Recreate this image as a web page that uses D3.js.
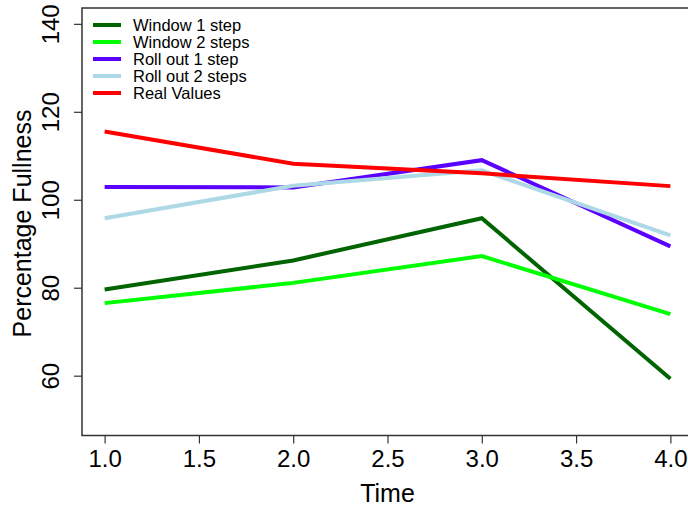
<!DOCTYPE html>
<html>
<head>
<meta charset="utf-8">
<script src="https://cdn.jsdelivr.net/npm/d3@7"></script>
<style>
  body { margin: 0; background: #fff; }
  text { font-family: "Liberation Sans", Arial, sans-serif; }
</style>
</head>
<body>
<script>
// data
var times = [1, 2, 3, 4];
var window1 = [79.6, 86.2, 95.8, 59.3];
var window2 = [76.5, 81.1, 87.2, 74.0];
var rollout1 = [102.9, 102.8, 109.0, 89.4];
var rollout2 = [95.8, 103.2, 106.7, 91.9];
var realValues = [115.5, 108.2, 106.0, 103.1];
var seriesNames = ["Window 1 step", "Window 2 steps", "Roll out 1 step", "Roll out 2 steps", "Real Values"];
var seriesColors = ["#006400", "#00ff00", "#5a00ff", "#add8e6", "#ff0000"];
var xTicks = [1.0, 1.5, 2.0, 2.5, 3.0, 3.5, 4.0];
var yTicks = [60, 80, 100, 120, 140];

var allSeries = [window1, window2, rollout1, rollout2, realValues];

draw();

function draw() {
	var W = 688, H = 509;
	// plot region (right side runs off the canvas like the original)
	var pl = 82, pt = 8, pb = 435.5, pr = 693;

	var svg = d3.select("body").append("svg")
		.attr("width", W)
		.attr("height", H);

	var x = d3.scaleLinear().domain([0.88, 4.12]).range([pl, pr]);
	var y = d3.scaleLinear().domain([46.4, 143.6]).range([pb, pt]);

	// box
	svg.append("rect")
		.attr("x", pl).attr("y", pt)
		.attr("width", pr - pl).attr("height", pb - pt)
		.attr("fill", "none")
		.attr("stroke", "#333")
		.attr("stroke-width", 1.5);

	// x axis
	var xAxis = svg.append("g")
		.attr("transform", "translate(0," + pb + ")")
		.call(d3.axisBottom(x).tickValues(xTicks).tickFormat(d3.format(".1f")).tickSize(8).tickPadding(6));
	xAxis.select(".domain").remove();
	xAxis.selectAll("line").attr("stroke", "#333").attr("stroke-width", 1.2);
	xAxis.selectAll("text").attr("font-size", 24).attr("fill", "#000")
		.attr("font-family", "Liberation Sans, Arial, sans-serif");

	// y axis
	var yAxis = svg.append("g")
		.attr("transform", "translate(" + pl + ",0)")
		.call(d3.axisLeft(y).tickValues(yTicks).tickSize(8));
	yAxis.select(".domain").remove();
	yAxis.selectAll("line").attr("stroke", "#333").attr("stroke-width", 1.2);
	yAxis.selectAll("text").remove();
	yAxis.selectAll(".tick").append("text")
		.attr("transform", "translate(-23,0) rotate(-90)")
		.attr("text-anchor", "middle")
		.attr("font-size", 24)
		.attr("font-family", "Liberation Sans, Arial, sans-serif")
		.attr("fill", "#000")
		.text(function(d){ return d; });

	// axis titles
	svg.append("text")
		.attr("x", x(2.5)).attr("y", 502)
		.attr("text-anchor", "middle")
		.attr("font-size", 25)
		.text("Time");

	svg.append("text")
		.attr("transform", "translate(22," + 223.5 + ") rotate(-90)")
		.attr("text-anchor", "middle")
		.attr("dy", "0.35em")
		.attr("font-size", 25)
		.text("Percentage Fullness");

	// lines
	var line = d3.line()
		.x(function(d, i){ return x(times[i]); })
		.y(function(d){ return y(d); });

	svg.append("g").selectAll("path")
		.data(allSeries)
		.enter()
		.append("path")
		.attr("d", line)
		.attr("fill", "none")
		.attr("stroke", function(d, i){ return seriesColors[i]; })
		.attr("stroke-width", 4);

	// legend
	var legend = svg.append("g").selectAll("g")
		.data(seriesNames)
		.enter()
		.append("g")
		.attr("transform", function(d, i){ return "translate(93," + (25 + i * 17) + ")"; });

	legend.append("line")
		.attr("x1", 0).attr("x2", 28)
		.attr("stroke", function(d, i){ return seriesColors[i]; })
		.attr("stroke-width", 4);

	legend.append("text")
		.attr("x", 40)
		.attr("dy", "0.35em")
		.attr("font-size", 16.5)
		.text(function(d){ return d; });
}
</script>
</body>
</html>
